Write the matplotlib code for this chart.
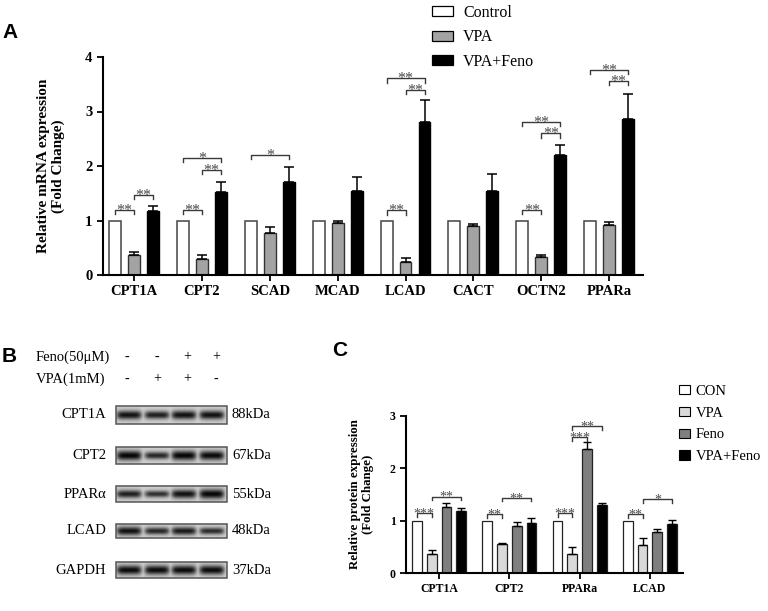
import numpy as np
import matplotlib.pyplot as plt
from matplotlib.patches import Patch, Rectangle

plt.rcParams['font.family'] = 'serif'
plt.rcParams['font.serif'] = ['Liberation Serif', 'DejaVu Serif']

# ---- panel A data: qPCR
genes_a = ['CPT1A', 'CPT2', 'SCAD', 'MCAD', 'LCAD', 'CACT', 'OCTN2', 'PPARa']
groups_a = ['Control', 'VPA', 'VPA+Feno']
control_a = [1, 1, 1, 1, 1, 1, 1, 1]
vpa_a = [0.37, 0.30, 0.77, 0.96, 0.24, 0.90, 0.33, 0.91]
vpa_a_err = [0.06, 0.07, 0.11, 0.04, 0.07, 0.03, 0.04, 0.07]
feno_a = [1.18, 1.52, 1.70, 1.55, 2.81, 1.54, 2.21, 2.87]
feno_a_err = [0.09, 0.18, 0.29, 0.25, 0.40, 0.31, 0.18, 0.46]
# (gene, bar i, bar j, height, label)
sig_a = [(0, 0, 1, 1.20, '**'), (0, 1, 2, 1.47, '**'),
         (1, 0, 1, 1.20, '**'), (1, 0, 2, 2.15, '*'), (1, 1, 2, 1.93, '**'),
         (2, 0, 2, 2.20, '*'),
         (4, 0, 1, 1.19, '**'), (4, 0, 2, 3.61, '**'), (4, 1, 2, 3.40, '**'),
         (6, 0, 1, 1.20, '**'), (6, 0, 2, 2.81, '**'), (6, 1, 2, 2.60, '**'),
         (7, 0, 2, 3.77, '**'), (7, 1, 2, 3.56, '**')]

# ---- panel B data: western blot
blot_rows = ['CPT1A', 'CPT2', 'PPARα', 'LCAD', 'GAPDH']
blot_kda = ['88kDa', '67kDa', '55kDa', '48kDa', '37kDa']
feno_signs = ['-', '-', '+', '+']
vpa_signs = ['-', '+', '+', '-']
band_levels = [[0.85, 0.70, 0.85, 0.85],
               [1.00, 0.60, 1.00, 0.95],
               [0.70, 0.50, 0.85, 1.00],
               [0.85, 0.60, 0.75, 0.55],
               [0.95, 0.95, 0.95, 0.95]]

# ---- panel C data: protein quantification
genes_c = ['CPT1A', 'CPT2', 'PPARa', 'LCAD']
groups_c = ['CON', 'VPA', 'Feno', 'VPA+Feno']
con_c = [1, 1, 1, 1]
vpa_c = [0.36, 0.55, 0.37, 0.53]
vpa_c_err = [0.07, 0.03, 0.13, 0.13]
feno_c = [1.26, 0.89, 2.37, 0.78]
feno_c_err = [0.07, 0.08, 0.13, 0.07]
vf_c = [1.19, 0.95, 1.29, 0.93]
vf_c_err = [0.05, 0.11, 0.04, 0.09]
sig_c = [(0, 0, 1, 1.14, '***'), (0, 1, 3, 1.46, '**'),
         (1, 0, 1, 1.13, '**'), (1, 1, 3, 1.44, '**'),
         (2, 0, 1, 1.14, '***'), (2, 1, 2, 2.59, '***'), (2, 1, 3, 2.80, '**'),
         (3, 0, 1, 1.13, '**'), (3, 1, 3, 1.41, '*')]

W, H = 768, 611
fig = plt.figure(figsize=(W / 100, H / 100), dpi=100)

# overlay in pixel coordinates for panel letters and the blot
ov = fig.add_axes([0, 0, 1, 1])
ov.axis('off')


def style_axes(ax, fs_tick):
    for s in ['top', 'right']:
        ax.spines[s].set_visible(False)
    for s in ['left', 'bottom']:
        ax.spines[s].set_linewidth(1.5)
    ax.tick_params(width=1.3, length=4, direction='out')
    for lab in ax.get_xticklabels() + ax.get_yticklabels():
        lab.set_fontweight('bold')
        lab.set_fontsize(fs_tick)


def bracket(ax, x1, x2, y, label, drop, fs):
    ax.plot([x1, x1, x2, x2], [y - drop, y, y, y - drop], color='#3a3a3a', lw=1.0,
            clip_on=False)
    ax.annotate(label, xy=((x1 + x2) / 2, y), xytext=(0, -0.32 * fs),
                textcoords='offset points', ha='center', va='baseline',
                fontsize=fs, color='#4a4a4a', annotation_clip=False)


# ---------------- panel A
axA = fig.add_axes([103 / W, 1 - 275 / H, 540 / W, 218 / H])
xa = np.arange(len(genes_a))
offs_a = [-0.28, 0, 0.28]
wa = 0.175
colors_a = ['white', '#a3a3a3', 'black']
edges_a = ['#444444', '#333333', 'black']
axA.bar(xa + offs_a[0], control_a, wa, color=colors_a[0], edgecolor=edges_a[0], lw=1.1)
axA.bar(xa + offs_a[1], vpa_a, wa, color=colors_a[1], edgecolor=edges_a[1], lw=1.0)
axA.bar(xa + offs_a[2], feno_a, wa, color=colors_a[2], edgecolor=edges_a[2], lw=1.0)
axA.errorbar(xa + offs_a[1], vpa_a, yerr=[np.zeros(len(xa)), vpa_a_err], fmt='none',
             ecolor='black', elinewidth=1.1, capsize=3.5, capthick=1.1)
axA.errorbar(xa + offs_a[2], feno_a, yerr=[np.zeros(len(xa)), feno_a_err], fmt='none',
             ecolor='black', elinewidth=1.1, capsize=3.5, capthick=1.1)
for g, i, j, y, lab in sig_a:
    bracket(axA, g + offs_a[i], g + offs_a[j], y, lab, 0.08, 11.5)
axA.set_xlim(-0.46, 7.5)
axA.set_ylim(0, 4)
axA.set_xticks(xa)
axA.set_xticklabels(genes_a)
axA.set_yticks([0, 1, 2, 3, 4])
axA.set_ylabel('Relative mRNA expression\n(Fold Change)', fontsize=11, fontweight='bold',
               linespacing=1.15)
axA.yaxis.set_label_coords(-0.07, 0.5)
style_axes(axA, 10.5)
handles_a = [Patch(facecolor=c, edgecolor='black', lw=0.9) for c in colors_a]
axA.legend(handles_a, groups_a, loc='upper left', bbox_to_anchor=(432 / W, 1 - 5 / H),
           bbox_transform=fig.transFigure, frameon=False, fontsize=11.5,
           borderpad=0, borderaxespad=0,
           handlelength=1.3, handleheight=0.6, handletextpad=0.65, labelspacing=0.52)

# ---------------- panel B (blot)
lane_x = [129, 157, 184, 212]
sign_x = [127, 157, 187, 216]
box_y = [(406, 424), (447, 464), (486, 502), (524, 538), (562, 578)]
bx0, bx1 = 116, 227
ov.text(36, 357, 'Feno(50μM)', fontsize=10.5, va='center', ha='left')
ov.text(36, 379, 'VPA(1mM)', fontsize=10.5, va='center', ha='left')
for sx, fs_, vs_ in zip(sign_x, feno_signs, vpa_signs):
    ov.text(sx, 357, fs_, fontsize=10, ha='center', va='center')
    ov.text(sx, 379, vs_, fontsize=10, ha='center', va='center')

gx = np.linspace(bx0, bx1, 240)
for (y0, y1), name, kda, levels in zip(box_y, blot_rows, blot_kda, band_levels):
    gy = np.linspace(y0, y1, 60)
    X, Y = np.meshgrid(gx, gy)
    yc = (y0 + y1) / 2
    dark = np.zeros_like(X)
    for lx, lv in zip(lane_x, levels):
        th = 1.9 + 3.0 * lv
        hx = np.exp(-((X - lx) / 12.5) ** 6)
        hy = np.exp(-((Y - yc) / th) ** 2)
        dark = np.maximum(dark, (0.6 + 0.4 * lv) * hx * hy)
    img = 0.82 - 0.8 * dark
    ov.imshow(img, cmap='gray', vmin=0, vmax=1, extent=(bx0, bx1, y1, y0),
              aspect='auto', interpolation='bilinear', zorder=1)
    ov.add_patch(Rectangle((bx0, y0), bx1 - bx0, y1 - y0, fill=False,
                           edgecolor='#555555', lw=1.1, zorder=2))
    ov.text(106, yc, name, fontsize=10.5, ha='right', va='center')
    ov.text(232, yc, kda, fontsize=10.5, ha='left', va='center')
ov.set_xlim(0, W)
ov.set_ylim(H, 0)

# panel letters
for letter, px, py in [('A', 10, 33), ('B', 9, 357), ('C', 340, 350)]:
    ov.text(px, py, letter, fontsize=15, fontweight='bold', family='Liberation Sans',
            ha='center', va='center')

# ---------------- panel C
axC = fig.add_axes([406 / W, 1 - 573 / H, 277 / W, 157 / H])
xc = np.arange(len(genes_c))
offs_c = [-0.315, -0.105, 0.105, 0.315]
wc = 0.14
colors_c = ['white', '#d9d9d9', '#7f7f7f', 'black']
vals_c = [con_c, vpa_c, feno_c, vf_c]
errs_c = [None, vpa_c_err, feno_c_err, vf_c_err]
for k in range(4):
    axC.bar(xc + offs_c[k], vals_c[k], wc, color=colors_c[k], edgecolor='#222222', lw=0.9)
    if errs_c[k] is not None:
        axC.errorbar(xc + offs_c[k], vals_c[k], yerr=[np.zeros(len(xc)), errs_c[k]],
                     fmt='none', ecolor='black', elinewidth=1.0, capsize=2.8, capthick=1.0)
for g, i, j, y, lab in sig_c:
    bracket(axC, g + offs_c[i], g + offs_c[j], y, lab, 0.07, 10)
axC.set_xlim(-0.47, 3.47)
axC.set_ylim(0, 3)
axC.set_xticks(xc)
axC.set_xticklabels(genes_c)
axC.set_yticks([0, 1, 2, 3])
axC.set_ylabel('Relative protein expression\n(Fold Change)', fontsize=9.3, fontweight='bold',
               linespacing=1.15)
axC.yaxis.set_label_coords(-0.115, 0.5)
style_axes(axC, 8.5)
handles_c = [Patch(facecolor=c, edgecolor='black', lw=0.8) for c in colors_c]
axC.legend(handles_c, groups_c, loc='upper left', bbox_to_anchor=(679 / W, 1 - 385 / H),
           bbox_transform=fig.transFigure, frameon=False, fontsize=10.5,
           borderpad=0, borderaxespad=0,
           handlelength=0.75, handleheight=0.6, handletextpad=0.4, labelspacing=0.6)

fig.savefig('out.png', dpi=100)
